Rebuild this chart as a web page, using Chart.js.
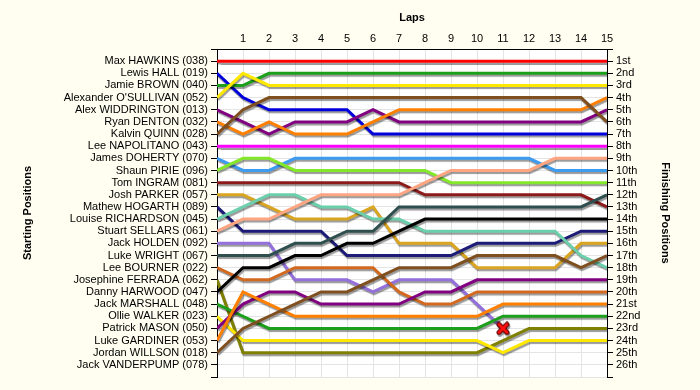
<!DOCTYPE html>
<html lang="en">
<head>
  <meta charset="UTF-8">
  <title>Lap Chart</title>
  <script src="https://cdn.jsdelivr.net/npm/chart.js"></script>
  <style>
    body {
      margin: 0;
      background: #fffef0;
    }
  </style>
</head>
<body>
  <canvas id="chart" width="700" height="390"></canvas>

  <script>
    // laps 0..15 (0 = grid)
    const laps = [0, 1, 2, 3, 4, 5, 6, 7, 8, 9, 10, 11, 12, 13, 14, 15];

    // drivers in starting order
    const drivers = [
      'Max HAWKINS (038)', 'Lewis HALL (019)', 'Jamie BROWN (040)', "Alexander O'SULLIVAN (052)",
      'Alex WIDDRINGTON (013)', 'Ryan DENTON (032)', 'Kalvin QUINN (028)', 'Lee NAPOLITANO (043)',
      'James DOHERTY (070)', 'Shaun PIRIE (096)', 'Tom INGRAM (081)', 'Josh PARKER (057)',
      'Mathew HOGARTH (089)', 'Louise RICHARDSON (045)', 'Stuart SELLARS (061)', 'Jack HOLDEN (092)',
      'Luke WRIGHT (067)', 'Lee BOURNER (022)', 'Josephine FERRADA (062)', 'Danny HARWOOD (047)',
      'Jack MARSHALL (048)', 'Ollie WALKER (023)', 'Patrick MASON (050)', 'Luke GARDINER (053)',
      'Jordan WILLSON (018)', 'Jack VANDERPUMP (078)'
    ];

    const finishLabels = [
      '1st', '2nd', '3rd', '4th', '5th', '6th', '7th', '8th', '9th', '10th', '11th', '12th', '13th',
      '14th', '15th', '16th', '17th', '18th', '19th', '20th', '21st', '22nd', '23rd', '24th', '25th', '26th'
    ];

    // position of each driver at each lap
    const posHawkins     = [1, 1, 1, 1, 1, 1, 1, 1, 1, 1, 1, 1, 1, 1, 1, 1];
    const posHall        = [2, 4, 5, 5, 5, 5, 7, 7, 7, 7, 7, 7, 7, 7, 7, 7];
    const posBrown       = [3, 3, 2, 2, 2, 2, 2, 2, 2, 2, 2, 2, 2, 2, 2, 2];
    const posOSullivan   = [4, 2, 3, 3, 3, 3, 3, 3, 3, 3, 3, 3, 3, 3, 3, 3];
    const posWiddrington = [5, 6, 7, 6, 6, 6, 5, 6, 6, 6, 6, 6, 6, 6, 6, 5];
    const posDenton      = [6, 7, 6, 7, 7, 7, 6, 5, 5, 5, 5, 5, 5, 5, 5, 4];
    const posQuinn       = [7, 5, 4, 4, 4, 4, 4, 4, 4, 4, 4, 4, 4, 4, 4, 6];
    const posNapolitano  = [8, 8, 8, 8, 8, 8, 8, 8, 8, 8, 8, 8, 8, 8, 8, 8];
    const posDoherty     = [9, 10, 10, 9, 9, 9, 9, 9, 9, 9, 9, 9, 9, 10, 10, 10];
    const posPirie       = [10, 9, 9, 10, 10, 10, 10, 10, 10, 11, 11, 11, 11, 11, 11, 11];
    const posIngram      = [11, 11, 11, 11, 11, 11, 11, 11, 12, 12, 12, 12, 12, 12, 12, 13];
    const posParker      = [12, 12, 13, 14, 14, 14, 13, 16, 16, 16, 18, 18, 18, 18, 16, 16];
    const posHogarth     = [13, 15, 15, 15, 15, 17, 17, 17, 17, 17, 16, 16, 16, 16, 15, 15];
    const posRichardson  = [14, 13, 12, 12, 13, 13, 14, 14, 15, 15, 15, 15, 15, 15, 17, 18];
    const posSellars     = [15, 14, 14, 13, 12, 12, 12, 12, 11, 10, 10, 10, 10, 9, 9, 9];
    const posHolden      = [16, 16, 16, 19, 19, 19, 20, 19, 19, 19, 21, 23];
    const posWright      = [17, 17, 17, 16, 16, 15, 15, 13, 13, 13, 13, 13, 13, 13, 13, 12];
    const posBourner     = [18, 19, 19, 18, 18, 18, 18, 20, 21, 21, 20, 20, 20, 20, 20, 20];
    const posFerrada     = [19, 25, 25, 25, 25, 25, 25, 25, 25, 25, 25, 24, 23, 23, 23, 23];
    const posHarwood     = [20, 18, 18, 17, 17, 16, 16, 15, 14, 14, 14, 14, 14, 14, 14, 14];
    const posMarshall    = [21, 22, 23, 23, 23, 23, 23, 23, 23, 23, 23, 22, 22, 22, 22, 22];
    const posWalker      = [22, 24, 24, 24, 24, 24, 24, 24, 24, 24, 24, 25, 24, 24, 24, 24];
    const posMason       = [23, 21, 20, 20, 21, 21, 21, 21, 20, 20, 19, 19, 19, 19, 19, 19];
    const posGardiner    = [24, 20, 21, 22, 22, 22, 22, 22, 22, 22, 22, 21, 21, 21, 21, 21];
    const posWillson     = [25, 23, 22, 21, 20, 20, 19, 18, 18, 18, 17, 17, 17, 17, 18, 17];
    const posVanderpump  = [];

    const positions = [
      posHawkins, posHall, posBrown, posOSullivan, posWiddrington, posDenton, posQuinn, posNapolitano,
      posDoherty, posPirie, posIngram, posParker, posHogarth, posRichardson, posSellars, posHolden,
      posWright, posBourner, posFerrada, posHarwood, posMarshall, posWalker, posMason, posGardiner,
      posWillson, posVanderpump
    ];

    const colors = [
      '#ff0000', '#0000dd', '#1ca01c', '#ffe800', '#800080', '#ff8000', '#7f4f1f', '#ff00ff',
      '#3d9bf0', '#84e82a', '#8c1a1a', '#daa520', '#1c1c78', '#6ccfac', '#ffa582', '#9370db',
      '#2f4f4f', '#d2691e', '#808000', '#000000', '#1ca01c', '#ffe800', '#800080', '#ff8000',
      '#7f4f1f', '#ff00ff'
    ];

    // retired marker (red cross)
    const cross = document.createElement('canvas');
    cross.width = 14;
    cross.height = 14;
    const cc = cross.getContext('2d');
    cc.lineCap = 'round';
    cc.beginPath();
    cc.moveTo(3, 3); cc.lineTo(11, 11);
    cc.moveTo(11, 3); cc.lineTo(3, 11);
    cc.strokeStyle = '#5a0000';
    cc.lineWidth = 5;
    cc.stroke();
    cc.strokeStyle = '#ff1010';
    cc.lineWidth = 3;
    cc.stroke();

    const datasets = drivers.map((name, i) => {
      const pos = positions[i];
      const retired = pos.length > 0 && pos.length < laps.length;
      return {
        label: name,
        data: pos.map((p, lap) => ({ x: laps[lap], y: p })),
        borderColor: colors[i],
        backgroundColor: colors[i],
        borderWidth: 3,
        tension: 0,
        fill: false,
        pointRadius: pos.map((p, lap) => (retired && lap === pos.length - 1) ? 7 : 0),
        pointStyle: cross,
        order: drivers.length - i
      };
    });

    const background = {
      id: 'background',
      beforeDraw(chart) {
        const { ctx, chartArea } = chart;
        ctx.save();
        ctx.fillStyle = '#fffef0';
        ctx.fillRect(0, 0, chart.width, chart.height);
        ctx.fillStyle = '#ffffff';
        ctx.fillRect(chartArea.left, chartArea.top, chartArea.right - chartArea.left, chartArea.bottom - chartArea.top);
        ctx.restore();
      }
    };

    const shadow = {
      id: 'shadow',
      beforeDatasetDraw(chart) {
        const c = chart.ctx;
        c.save();
        c.shadowColor = 'rgba(0, 0, 0, 0.4)';
        c.shadowOffsetX = 1;
        c.shadowOffsetY = 2;
        c.shadowBlur = 1;
      },
      afterDatasetDraw(chart) {
        chart.ctx.restore();
      }
    };

    Chart.defaults.font.family = "'Liberation Sans', Arial, sans-serif";
    Chart.defaults.font.size = 11;
    Chart.defaults.color = '#000';

    new Chart(document.getElementById('chart'), {
      type: 'line',
      data: { datasets: datasets },
      options: {
        responsive: false,
        animation: false,
        layout: { padding: { top: 0, left: 0, right: 0, bottom: 13 } },
        plugins: {
          legend: { display: false },
          tooltip: { enabled: false }
        },
        scales: {
          x: {
            type: 'linear',
            position: 'top',
            min: 0,
            max: 15,
            ticks: {
              stepSize: 1,
              padding: 3,
              callback: v => v === 0 ? '' : v
            },
            grid: { color: '#e4e4e4', drawTicks: false },
            border: { color: '#000' },
            title: {
              display: true,
              text: 'Laps',
              font: { weight: 'bold', size: 11 },
              padding: { top: 11, bottom: 0 }
            },
            afterFit: s => { s.height = 49; }
          },
          y: {
            type: 'linear',
            position: 'left',
            reverse: true,
            min: 0,
            max: 27,
            ticks: {
              stepSize: 1,
              autoSkip: false,
              padding: 3,
              callback: v => drivers[v - 1] || ''
            },
            grid: { color: '#e4e4e4', tickColor: '#000', tickLength: 6 },
            border: { color: '#000' },
            title: {
              display: true,
              text: 'Starting Positions',
              font: { weight: 'bold', size: 11 },
              padding: { top: 21, bottom: 0 }
            },
            afterFit: s => { s.width = 217; }
          },
          y2: {
            type: 'linear',
            position: 'right',
            reverse: true,
            min: 0,
            max: 27,
            ticks: {
              stepSize: 1,
              autoSkip: false,
              padding: 3,
              callback: v => finishLabels[v - 1] || ''
            },
            grid: { drawOnChartArea: false, tickColor: '#000', tickLength: 6 },
            border: { color: '#000' },
            title: {
              display: true,
              text: 'Finishing Positions',
              font: { weight: 'bold', size: 11 },
              padding: { top: 28, bottom: 0 }
            },
            afterFit: s => { s.width = 93; }
          }
        }
      },
      plugins: [background, shadow]
    });
  </script>
</body>
</html>
